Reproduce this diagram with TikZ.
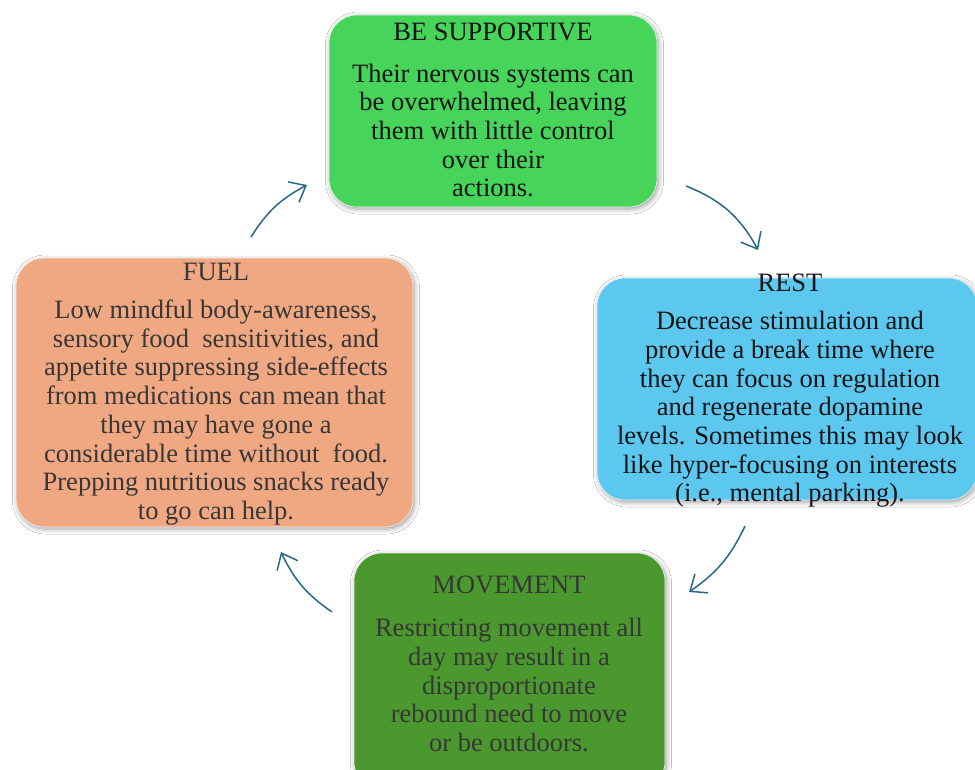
\documentclass[tikz,border=0pt]{standalone}
\usepackage{fontspec}
\setmainfont{Liberation Serif}
\usetikzlibrary{arrows.meta,shadows.blur}
\definecolor{cgreen}{RGB}{70,212,90}
\definecolor{cblue}{RGB}{92,200,240}
\definecolor{cdgreen}{RGB}{74,152,46}
\definecolor{corange}{RGB}{240,168,130}
\definecolor{carrow}{RGB}{40,104,138}
\definecolor{cdark}{RGB}{20,20,20}
\definecolor{cgray}{RGB}{55,55,55}
\begin{document}
\begin{tikzpicture}[x=1pt,y=-1pt,
  box/.style={rounded corners=28pt, draw=white!90!gray, line width=0.6pt, inner sep=0pt,
    blur shadow={shadow xshift=1.5pt, shadow yshift=-2pt, shadow blur radius=5pt, shadow opacity=40}},
  ttl/.style={font=\fontsize{26.5}{28.7}\selectfont, inner sep=0pt},
  bodytxt/.style={font=\fontsize{26.5}{28.7}\selectfont, align=center, inner sep=0pt},
  cyc/.style={draw=carrow, line width=1.5pt, -{Straight Barb[length=14pt,width=23pt,line width=1.5pt]}}
]
\clip (0,0) rectangle (975,770);
\fill[white] (0,0) rectangle (975,770);

% boxes
\node[box, fill=cgreen, minimum width=328pt, minimum height=192pt] (sup) at (493,111) {};
\node[box, fill=cblue, minimum width=380pt, minimum height=222pt] (rest) at (787,389) {};
\node[box, fill=cdgreen, minimum width=311pt, minimum height=237pt] (move) at (509.5,671.5) {};
\node[box, fill=corange, minimum width=397pt, minimum height=269pt] (fuel) at (214.5,392.5) {};

% texts
\node[ttl, text=cdark] (supT) at (493,32) {BE SUPPORTIVE};
\node[bodytxt, text=cdark] (supB) at (493,130.5) {Their nervous systems can\\be overwhelmed, leaving\\them with little control\\over their\\actions.};

\node[ttl, text=cdark] (restT) at (790,283) {REST};
\node[bodytxt, text=cdark] (restB) at (790,409.5) {Decrease stimulation and\\provide a break time where\\they can focus on regulation\\and regenerate dopamine\\levels. Sometimes this may look\\like hyper-focusing on interests\\(i.e., mental parking).};

\node[ttl, text=cgray] (moveT) at (509,585) {MOVEMENT};
\node[bodytxt, text=cgray] (moveB) at (509,685) {Restricting movement all\\day may result in a\\disproportionate\\rebound need to move\\or be outdoors.};

\node[ttl, text=cgray] (fuelT) at (216,272) {FUEL};
\node[bodytxt, text=cgray] (fuelB) at (216,412.5) {Low mindful body-awareness,\\sensory food\ \ sensitivities, and\\appetite suppressing side-effects\\from medications can mean that\\they may have gone a\\considerable time without\ \ food.\\Prepping nutritious snacks ready\\to go can help.};

% arrow end points
\coordinate (a1s) at (251,237);
\coordinate (a1e) at (307,185);
\coordinate (a2s) at (686,186);
\coordinate (a2e) at (758,250);
\coordinate (a3s) at (745,526);
\coordinate (a3e) at (689,592);
\coordinate (a4s) at (332,612);
\coordinate (a4e) at (281,552);

\draw[cyc] (a1s) to[bend left=15] (a1e);
\draw[cyc] (a2s) to[bend left=20] (a2e);
\draw[cyc] (a3s) to[bend left=15] (a3e);
\draw[cyc] (a4s) to[bend left=15] (a4e);
\end{tikzpicture}
\end{document}
